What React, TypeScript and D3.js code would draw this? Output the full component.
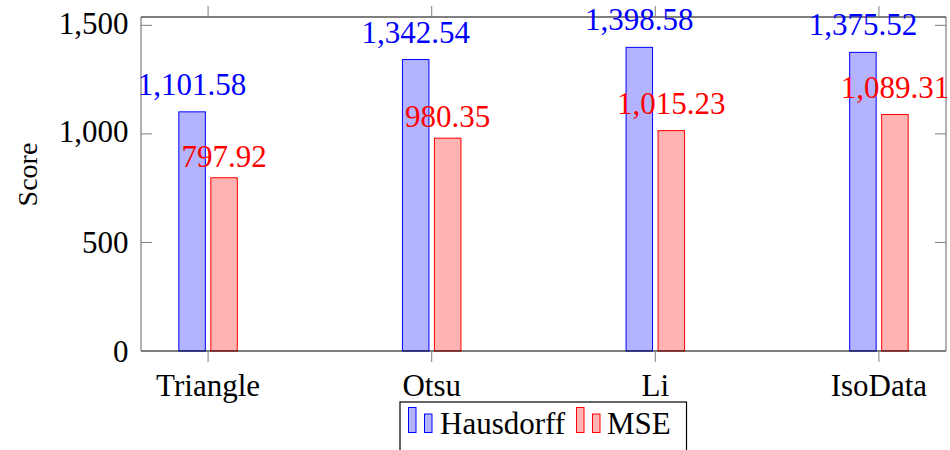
import React from "react";
import * as d3 from "d3";

// Categories and series values
const categories = ["Triangle", "Otsu", "Li", "IsoData"];
const hausdorff = [1101.58, 1342.54, 1398.58, 1375.52];
const mse = [797.92, 980.35, 1015.23, 1089.31];
const yTicks = [0, 500, 1000, 1500];
const seriesNames = ["Hausdorff", "MSE"];

const W = 950;
const H = 450;
const left = 141;
const right = 946;
const top = 17;
const bottom = 351;

const FONT = "'Liberation Serif', 'Times New Roman', serif";
const FS = 31;
const GREY = "#7f7f7f";

const BLUE = "#0000ff";
const BLUE_FILL = "#b3b3ff";
const RED = "#ff0000";
const RED_FILL = "#ffb3b3";

export default function App() {
  const x = d3.scalePoint<string>().domain(categories).range([left, right]).padding(0.3);
  const yMax = (d3.max([...hausdorff, ...mse]) as number) * 1.1;
  const y = d3.scaleLinear().domain([0, yMax]).range([bottom, top]);

  const fmtVal = d3.format(",.2f");
  const fmtTick = d3.format(",");

  const barW = 26.5;
  const offset = 16;

  const series = [
    { values: hausdorff, stroke: BLUE, fill: BLUE_FILL, dx: -offset },
    { values: mse, stroke: RED, fill: RED_FILL, dx: offset },
  ];

  return (
    <svg
      width={W}
      height={H}
      style={{ position: "absolute", left: 0, top: 0, background: "#fff" }}
      fontFamily={FONT}
    >
      {/* bars */}
      {series.map((s, si) =>
        s.values.map((v, i) => {
          const cx = (x(categories[i]) as number) + s.dx;
          return (
            <rect
              key={`b${si}-${i}`}
              x={cx - barW / 2}
              y={y(v)}
              width={barW}
              height={y(0) - y(v)}
              fill={s.fill}
              stroke={s.stroke}
              strokeWidth={1}
            />
          );
        })
      )}

      {/* axis frame */}
      <line x1={left} x2={left} y1={top} y2={bottom} stroke={GREY} strokeWidth={1.2} />
      <line x1={right} x2={right} y1={top} y2={bottom} stroke={GREY} strokeWidth={1.2} />
      <line x1={left} x2={right} y1={top} y2={top} stroke="#000" strokeWidth={1.2} />
      <line x1={left} x2={right} y1={bottom} y2={bottom} stroke="#000" strokeWidth={1.2} />

      {/* x ticks (outward, top and bottom) */}
      {categories.map((c) => {
        const px = x(c) as number;
        return (
          <g key={`xt-${c}`}>
            <line x1={px} x2={px} y1={bottom} y2={bottom + 11} stroke={GREY} strokeWidth={1} />
            <line x1={px} x2={px} y1={top - 11} y2={top} stroke={GREY} strokeWidth={1} />
            <text x={px} y={396} textAnchor="middle" fontSize={FS} fill="#000">
              {c}
            </text>
          </g>
        );
      })}

      {/* y ticks (inward, left and right) */}
      {yTicks.map((t) => {
        const py = y(t);
        const label = fmtTick(t);
        const dy = label.includes(",") ? 8.5 : 10.5;
        return (
          <g key={`yt-${t}`}>
            <line x1={left} x2={left + 11} y1={py} y2={py} stroke={GREY} strokeWidth={1} />
            <line x1={right - 11} x2={right} y1={py} y2={py} stroke={GREY} strokeWidth={1} />
            <text x={128.5} y={py + dy} textAnchor="end" fontSize={FS} fill="#000">
              {label}
            </text>
          </g>
        );
      })}

      {/* y axis title */}
      <text
        transform={`translate(36.5, 174.5) rotate(-90)`}
        textAnchor="middle"
        fontSize={28}
        fill="#000"
      >
        Score
      </text>

      {/* value labels */}
      {series.map((s, si) =>
        s.values.map((v, i) => {
          const cx = (x(categories[i]) as number) + s.dx;
          const label = fmtVal(v);
          const gap = label.includes(",") ? 17 : 11;
          return (
            <text
              key={`l${si}-${i}`}
              x={cx}
              y={y(v) - gap}
              textAnchor="middle"
              fontSize={FS}
              fill={s.stroke}
            >
              {label}
            </text>
          );
        })
      )}

      {/* legend */}
      <g>
        <rect x={400} y={402} width={286.5} height={70} fill="#fff" stroke="#000" strokeWidth={1.2} />
        {[
          { bx: 408.5, tx: 440, stroke: BLUE, fill: BLUE_FILL, name: seriesNames[0] },
          { bx: 576.5, tx: 607, stroke: RED, fill: RED_FILL, name: seriesNames[1] },
        ].map((it) => (
          <g key={it.name}>
            <rect x={it.bx} y={407.5} width={7.5} height={25} fill={it.fill} stroke={it.stroke} strokeWidth={1} />
            <rect x={it.bx + 16} y={414} width={7.5} height={18.5} fill={it.fill} stroke={it.stroke} strokeWidth={1} />
            <text x={it.tx} y={434} fontSize={FS} fill="#000">
              {it.name}
            </text>
          </g>
        ))}
      </g>
    </svg>
  );
}
